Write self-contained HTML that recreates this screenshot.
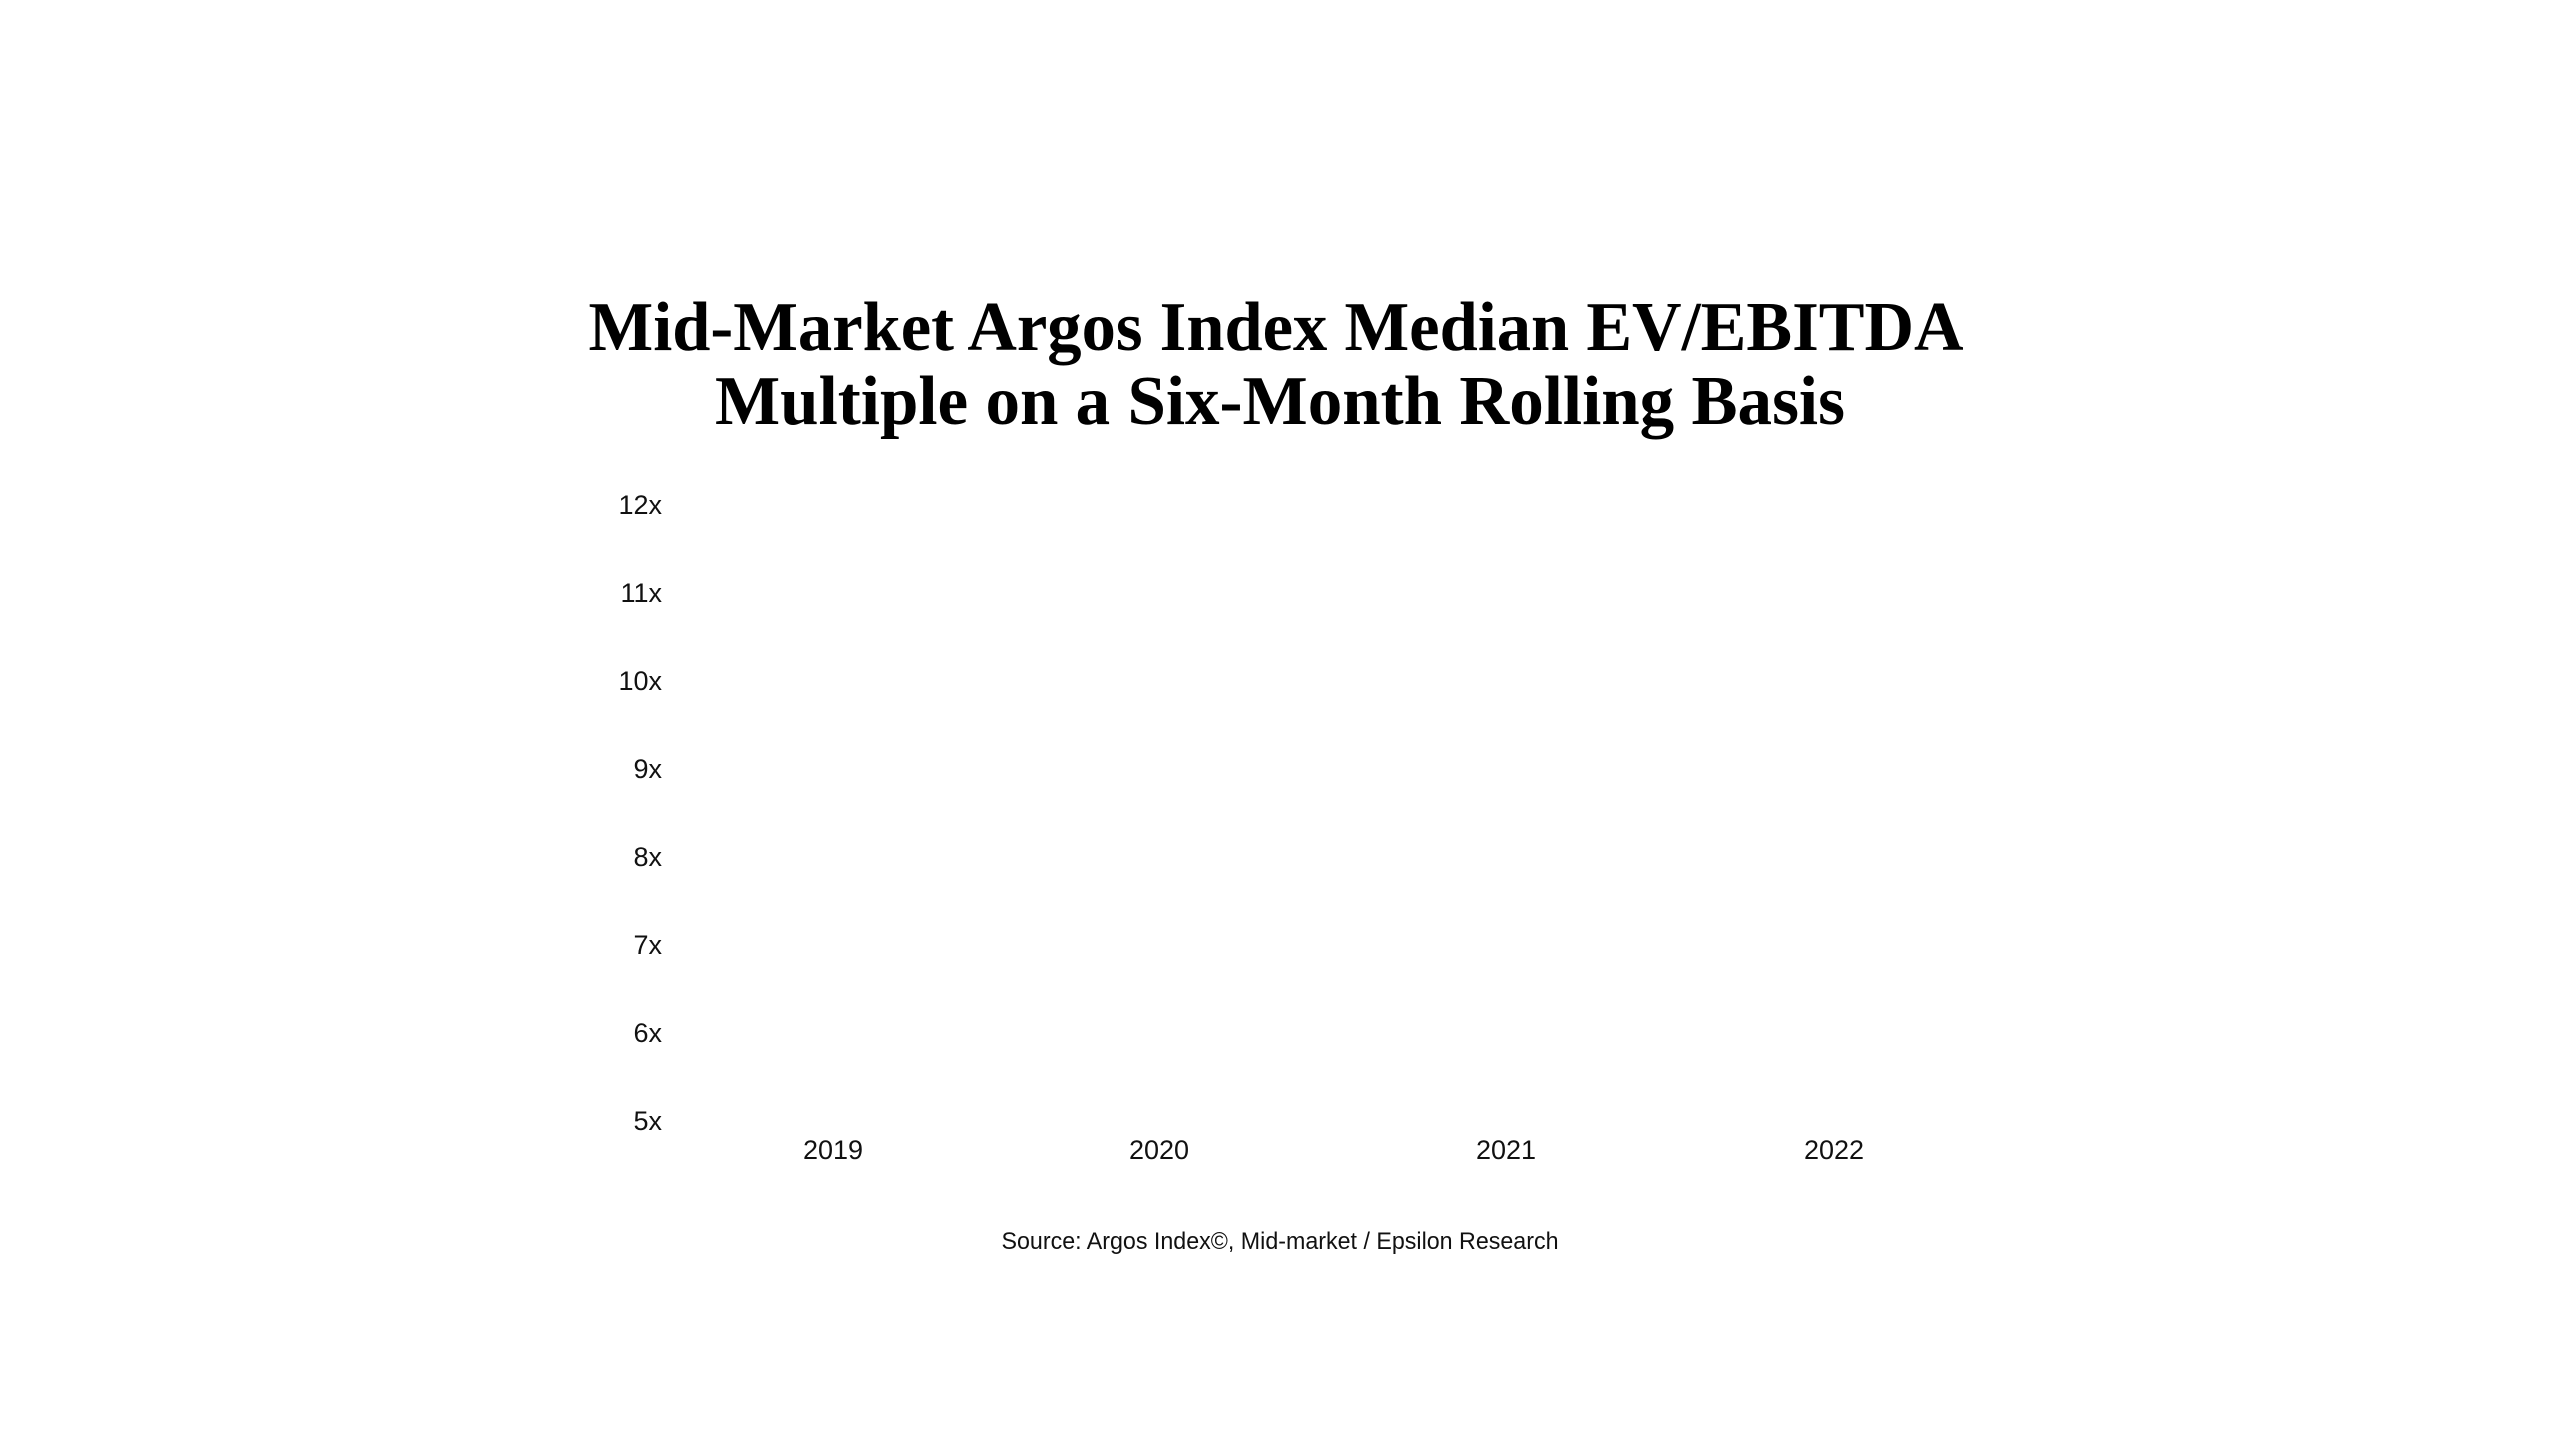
<!DOCTYPE html>
<html><head><meta charset="utf-8"><style>
html,body{margin:0;padding:0;background:#fff;}
svg{display:block;}
</style></head><body>
<svg width="2560" height="1440" viewBox="0 0 2560 1440" xmlns="http://www.w3.org/2000/svg">
<rect width="2560" height="1440" fill="#fff"/>
<g font-family="'Liberation Serif',serif" font-weight="bold" font-size="70" fill="#000" text-anchor="middle">
<text x="1276" y="350" textLength="1375" lengthAdjust="spacingAndGlyphs">Mid-Market Argos Index Median EV/EBITDA</text>
<text x="1280" y="424" textLength="1130" lengthAdjust="spacingAndGlyphs">Multiple on a Six-Month Rolling Basis</text>
</g>
<g font-family="'Liberation Sans',sans-serif" font-size="27" fill="#111" text-anchor="end">
<text x="662" y="514">12x</text>
<text x="662" y="602">11x</text>
<text x="662" y="690">10x</text>
<text x="662" y="778">9x</text>
<text x="662" y="866">8x</text>
<text x="662" y="954">7x</text>
<text x="662" y="1042">6x</text>
<text x="662" y="1130">5x</text>
</g>
<g font-family="'Liberation Sans',sans-serif" font-size="27" fill="#111" text-anchor="middle">
<text x="833" y="1159">2019</text>
<text x="1159" y="1159">2020</text>
<text x="1506" y="1159">2021</text>
<text x="1834" y="1159">2022</text>
</g>
<text x="1280" y="1249" font-family="'Liberation Sans',sans-serif" font-size="24" fill="#111" text-anchor="middle" textLength="557" lengthAdjust="spacingAndGlyphs">Source: Argos Index©, Mid-market / Epsilon Research</text>
</svg>
</body></html>
